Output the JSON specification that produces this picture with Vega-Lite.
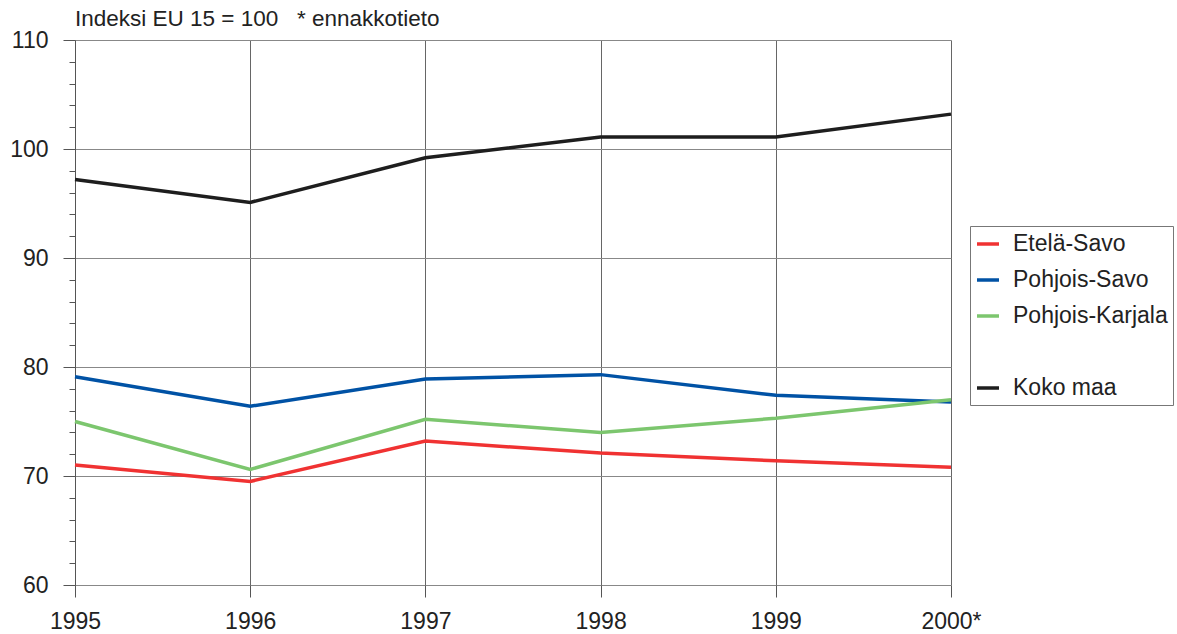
{
  "$schema": "https://vega.github.io/schema/vega-lite/v6.json",
  "width": 876,
  "height": 545,
  "autosize": {"type": "none"},
  "padding": {"left": 75, "top": 40, "right": 226, "bottom": 49},
  "background": "white",
  "title": {
    "text": "Indeksi EU 15 = 100\u00a0\u00a0 * ennakkotieto",
    "anchor": "start",
    "frame": "group",
    "orient": "top",
    "offset": 4,
    "dy": 5,
    "fontSize": 22.5,
    "font": "Liberation Sans",
    "fontWeight": "normal",
    "color": "#222"
  },
  "config": {
    "view": {"stroke": null},
    "font": "Liberation Sans"
  },
  "data": {
    "values": [
      {"year": "1995", "alue": "Etelä-Savo", "v": 71.0},
      {"year": "1996", "alue": "Etelä-Savo", "v": 69.5},
      {"year": "1997", "alue": "Etelä-Savo", "v": 73.2},
      {"year": "1998", "alue": "Etelä-Savo", "v": 72.1},
      {"year": "1999", "alue": "Etelä-Savo", "v": 71.4},
      {"year": "2000*", "alue": "Etelä-Savo", "v": 70.8},
      {"year": "1995", "alue": "Pohjois-Savo", "v": 79.1},
      {"year": "1996", "alue": "Pohjois-Savo", "v": 76.4},
      {"year": "1997", "alue": "Pohjois-Savo", "v": 78.9},
      {"year": "1998", "alue": "Pohjois-Savo", "v": 79.3},
      {"year": "1999", "alue": "Pohjois-Savo", "v": 77.4},
      {"year": "2000*", "alue": "Pohjois-Savo", "v": 76.8},
      {"year": "1995", "alue": "Pohjois-Karjala", "v": 75.0},
      {"year": "1996", "alue": "Pohjois-Karjala", "v": 70.6},
      {"year": "1997", "alue": "Pohjois-Karjala", "v": 75.2},
      {"year": "1998", "alue": "Pohjois-Karjala", "v": 74.0},
      {"year": "1999", "alue": "Pohjois-Karjala", "v": 75.3},
      {"year": "2000*", "alue": "Pohjois-Karjala", "v": 77.0},
      {"year": "1995", "alue": "Koko maa", "v": 97.2},
      {"year": "1996", "alue": "Koko maa", "v": 95.1},
      {"year": "1997", "alue": "Koko maa", "v": 99.2},
      {"year": "1998", "alue": "Koko maa", "v": 101.1},
      {"year": "1999", "alue": "Koko maa", "v": 101.1},
      {"year": "2000*", "alue": "Koko maa", "v": 103.2}
    ]
  },
  "mark": {"type": "line", "strokeWidth": 3.5},
  "encoding": {
    "x": {
      "field": "year",
      "type": "ordinal",
      "sort": null,
      "scale": {"type": "point", "padding": 0},
      "axis": {
        "title": null,
        "labelAngle": 0,
        "labelFontSize": 23,
        "labelColor": "#222",
        "labelPadding": 13,
        "tickSize": 12,
        "tickColor": "#555",
        "domain": false,
        "grid": true,
        "gridColor": "#666",
        "gridWidth": 1
      }
    },
    "y": {
      "field": "v",
      "type": "quantitative",
      "scale": {"domain": [60, 110], "nice": false, "zero": false},
      "axis": {
        "title": null,
        "values": [60, 62, 64, 66, 68, 70, 72, 74, 76, 78, 80, 82, 84, 86, 88, 90, 92, 94, 96, 98, 100, 102, 104, 106, 108, 110],
        "labelExpr": "datum.value % 10 === 0 ? datum.label : ''",
        "labelFontSize": 23,
        "labelColor": "#222",
        "labelPadding": 15,
        "tickSize": {"condition": {"test": "datum.value % 10 === 0", "value": 12}, "value": 6},
        "tickColor": "#555",
        "domain": true,
        "domainColor": "#555",
        "grid": true,
        "gridColor": "#888",
        "gridOpacity": {"condition": {"test": "datum.value % 10 === 0", "value": 1}, "value": 0}
      }
    },
    "color": {
      "field": "alue",
      "type": "nominal",
      "scale": {
        "domain": ["Etelä-Savo", "Pohjois-Savo", "Pohjois-Karjala", " ", "Koko maa"],
        "range": ["#f03232", "#0052a5", "#7cc66e", "#ffffff", "#1e1e1e"]
      },
      "legend": {
        "title": null,
        "orient": "none",
        "legendX": 895,
        "legendY": 186,
        "symbolType": "stroke",
        "symbolSize": 484,
        "symbolStrokeWidth": 3.5,
        "labelFontSize": 23,
        "labelColor": "#222",
        "labelOffset": 12,
        "rowPadding": 11,
        "padding": 5,
        "strokeColor": "#777",
        "fillColor": "white",
        "cornerRadius": 0,
        "labelLimit": 300
      }
    }
  }
}
